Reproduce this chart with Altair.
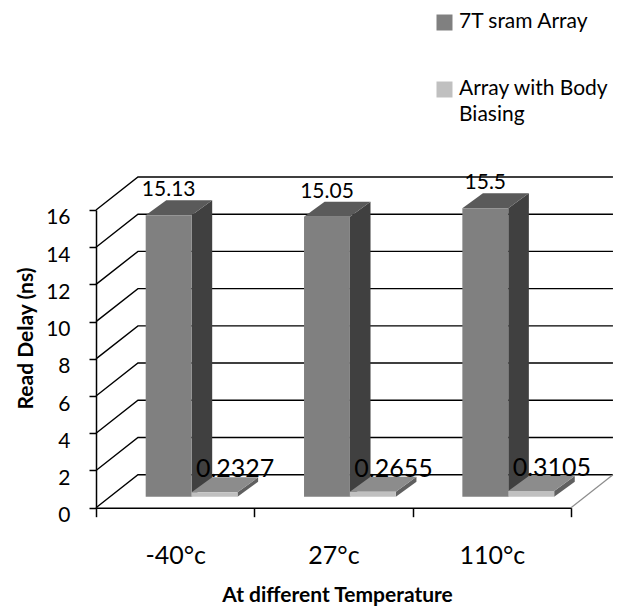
import json
import textwrap
import altair as alt
import pandas as pd

# ---------------- data ----------------
categories = ["-40°c", "27°c", "110°c"]
series_names = ["7T sram Array", "Array with Body Biasing"]
sram_array = [15.13, 15.05, 15.5]
body_biasing = [0.2327, 0.2655, 0.3105]
y_ticks = [0, 2, 4, 6, 8, 10, 12, 14, 16]
y_max = 16

# ---------------- style ----------------
FONT = "Lato"
front_colors = ["#808080", "#c0c0c0"]
side_colors = ["#404040", "#606060"]
top_colors = ["#5a5a5a", "#8c8c8c"]

# 3-D look, expressed in axis units
WALL_DX, WALL_DY = 0.265, 1.774     # depth of the back wall
PLANE = 1 / 3                       # bars stand a third of the way back
BAR_DX, BAR_DY = 0.13, 0.806        # depth of a bar
BAR_W, GAP_L = 0.29, 0.2255         # bar width, gap before first bar

n = len(categories)
series_values = [sram_array, body_biasing]

front, side, top, labels = [], [], [], []
for i, cat in enumerate(categories):
    for s, name in enumerate(series_names):
        v = series_values[s][i]
        x0 = i + WALL_DX * PLANE + GAP_L + s * BAR_W
        x1 = x0 + BAR_W
        y0 = WALL_DY * PLANE
        y1 = y0 + v
        fid = f"{i}-{s}"
        front.append(dict(series=name, category=cat, value=v, x=x0, x2=x1, y=y0, y2=y1))
        side += [
            dict(id=fid, x=x1, lo=y0, hi=y1, col=side_colors[s]),
            dict(id=fid, x=x1 + BAR_DX, lo=y0 + BAR_DY, hi=y1 + BAR_DY, col=side_colors[s]),
        ]
        top += [
            dict(id=fid, x=x0, lo=y1, hi=y1, col=top_colors[s]),
            dict(id=fid, x=x0 + BAR_DX, lo=y1, hi=y1 + BAR_DY, col=top_colors[s]),
            dict(id=fid, x=x1, lo=y1, hi=y1 + BAR_DY, col=top_colors[s]),
            dict(id=fid, x=x1 + BAR_DX, lo=y1 + BAR_DY, hi=y1 + BAR_DY, col=top_colors[s]),
        ]
        labels.append(dict(series=name, text=str(v),
                           lx=(x0 + x1) / 2 + s * BAR_DX, ly=y1 + BAR_DY))

grid = []
for v in y_ticks:
    grid += [dict(v=v, o=0, x=0, y=v),
             dict(v=v, o=1, x=WALL_DX, y=v + WALL_DY),
             dict(v=v, o=2, x=n + WALL_DX, y=v + WALL_DY)]
floor_edge = [dict(o=0, x=n, y=0), dict(o=1, x=n + WALL_DX, y=WALL_DY)]

front_df = pd.DataFrame(front)
side_df = pd.DataFrame(side)
top_df = pd.DataFrame(top)
label_df = pd.DataFrame(labels)
grid_df = pd.DataFrame(grid)
edge_df = pd.DataFrame(floor_edge)

# ---------------- scales / axes ----------------
cats_js = json.dumps(categories, ensure_ascii=False)
xscale = alt.Scale(domain=[0, n], nice=False, zero=False)
yscale = alt.Scale(domain=[0, y_max], nice=False)

xaxis = alt.Axis(
    values=[k / 2 for k in range(2 * n + 1)],
    labelExpr=f"datum.value % 1 == 0.5 ? {cats_js}[floor(datum.value)] : ''",
    tickOpacity={"condition": {"test": "datum.value % 1 != 0", "value": 0}, "value": 1},
    tickSize=9, tickWidth=1.5, tickColor="black",
    domainColor="black", domainWidth=1.5,
    labelFont=FONT, labelFontSize=25, labelColor="black",
    labelPadding=27, labelFlush=False, labelOverlap=False,
    grid=False,
    title="At different Temperature", titleFont=FONT, titleFontSize=21,
    titleFontWeight="bold", titleColor="black",
    titleBaseline="alphabetic", titleY=94, titleX=241,
)
yaxis = alt.Axis(
    values=y_ticks, tickSize=7, tickWidth=1.5, tickColor="black",
    domainColor="black", domainWidth=1.5,
    labelFont=FONT, labelFontSize=21, labelColor="black",
    labelPadding=19, labelOffset=8, labelBaseline="middle",
    grid=False,
    title="Read Delay (ns)", titleFont=FONT, titleFontSize=21,
    titleFontWeight="bold", titleColor="black",
    titleBaseline="alphabetic", titleX=-64, titleY=128, titleAngle=-90,
)


def X(field):
    return alt.X(field, scale=xscale, axis=xaxis)


def Y(field):
    return alt.Y(field, scale=yscale, axis=yaxis)


# legend labels wrapped like the original, padded to two lines each
wrapped = {name: textwrap.wrap(name, 15) for name in series_names}
expr = "datum.label"
for name, lines in wrapped.items():
    lines = (lines + [""])[:2] if len(lines) < 2 else lines
    expr = f"datum.label == {json.dumps(name)} ? {json.dumps(lines)} : ({expr})"

legend = alt.Legend(
    orient="none", legendX=338, legendY=-198, title=None,
    symbolType="square", symbolSize=256, symbolStrokeWidth=0,
    labelFont=FONT, labelFontSize=21, labelColor="black", labelOffset=4,
    labelLimit=400, rowPadding=19, padding=0, labelExpr=expr,
)

# ---------------- layers ----------------
grid_layer = alt.Chart(grid_df).mark_line(color="black", strokeWidth=1.4).encode(
    x=X("x:Q"), y=Y("y:Q"), detail="v:N", order="o:Q")
edge_layer = alt.Chart(edge_df).mark_line(color="#8c8c8c", strokeWidth=1.2).encode(
    x=X("x:Q"), y=Y("y:Q"), order="o:Q")
side_layer = alt.Chart(side_df).mark_area(orient="vertical", interpolate="linear").encode(
    x=X("x:Q"), y=Y("lo:Q"), y2="hi:Q", detail="id:N",
    color=alt.Color("col:N", scale=None))
top_layer = alt.Chart(top_df).mark_area(orient="vertical", interpolate="linear").encode(
    x=X("x:Q"), y=Y("lo:Q"), y2="hi:Q", detail="id:N",
    color=alt.Color("col:N", scale=None))
front_layer = alt.Chart(front_df).mark_rect().encode(
    x=X("x:Q"), x2="x2:Q", y=Y("y:Q"), y2="y2:Q",
    fill=alt.Fill("series:N", scale=alt.Scale(domain=series_names, range=front_colors),
                  legend=legend))
label1 = alt.Chart(label_df).transform_filter(
    alt.datum.series == series_names[0]).mark_text(
    font=FONT, fontSize=21, color="black", baseline="alphabetic", dy=-4).encode(
    x=X("lx:Q"), y=Y("ly:Q"), text="text:N")
label2 = alt.Chart(label_df).transform_filter(
    alt.datum.series == series_names[1]).mark_text(
    font=FONT, fontSize=25, color="black", baseline="alphabetic", dy=0).encode(
    x=X("lx:Q"), y=Y("ly:Q"), text="text:N")

chart = alt.layer(
    grid_layer, edge_layer, side_layer, top_layer, front_layer, label1, label2
).properties(
    width=475, height=297.7,
    autosize=alt.AutoSizeParams(type="none"),
    padding={"left": 96, "top": 210, "right": 62, "bottom": 100},
    background="white",
).configure(
    style={"guide-label": {"lineHeight": 26}},
    view={"stroke": None},
)

chart.save("out.html", embed_options={"renderer": "svg", "actions": False})
